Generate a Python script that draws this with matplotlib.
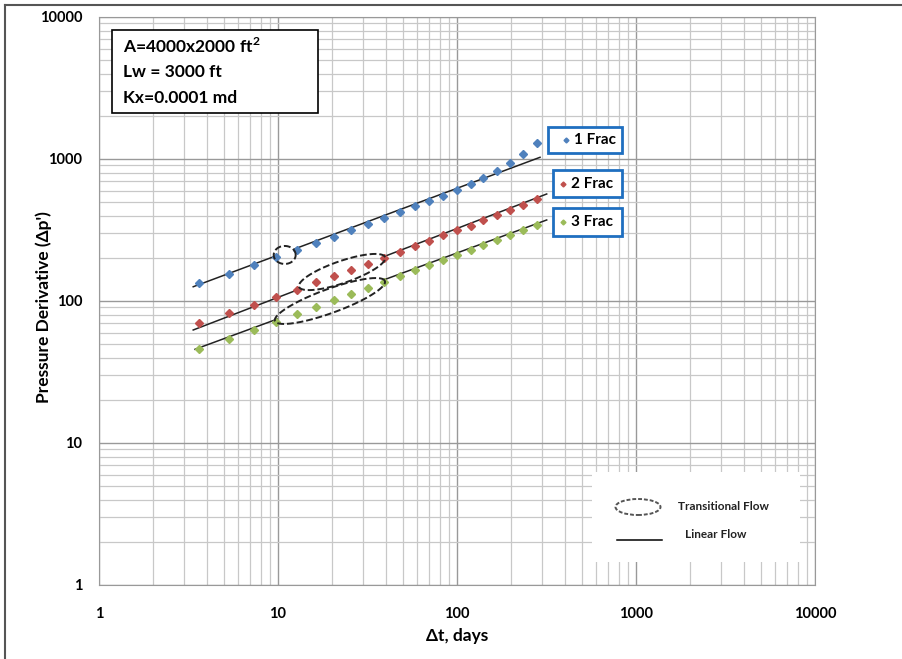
import matplotlib.pyplot as plt
import matplotlib.patches as patches
from matplotlib.lines import Line2D
import numpy as np

plt.rcParams['font.family'] = ['Lato', 'DejaVu Sans']
plt.rcParams['mathtext.fontset'] = 'custom'
plt.rcParams['mathtext.bf'] = 'Lato:bold'
plt.rcParams['mathtext.rm'] = 'Lato:bold'

# time, days
t = [3.6, 5.3, 7.3, 9.8, 12.8, 16.2, 20.5, 25.7, 31.8, 39, 48, 58, 70, 84,
     100, 119, 140, 167, 198, 235, 279]
frac1 = [133, 156, 178, 205, 229, 255, 284, 315, 347, 382, 421, 465, 506, 551,
         608, 667, 739, 823, 933, 1079, 1303]
frac2 = [70, 82, 94, 107, 120, 135, 150, 166, 183, 202, 222, 244, 266, 290,
         315, 339, 370, 401, 437, 474, 521]
frac3 = [46, 54, 62.5, 71, 81, 91, 101, 112.5, 124, 137, 151, 164.5, 180, 195,
         212, 230, 248, 268, 292, 316, 341]

names = ['1 Frac', '2 Frac', '3 Frac']
colors = ['#4F81BD', '#C0504D', '#9BBB59']

# linear flow lines (start/end) and the gap hidden by the transition ellipse
fit_x0 = [3.36, 3.36, 3.44]
fit_x1 = [291, 317, 317]
fit_y0 = [126, 62.5, 45.7]
fit_y1 = [1028, 567, 372]
gap_a = [9.6, 12.9, 9.9]
gap_b = [12.4, 39, 39]

# transitional flow ellipses: centre, length/width in px, angle in deg
ell_x = [10.9, 22.8, 19.5]
ell_y = [211, 160, 100]
ell_len = [22, 91, 117]
ell_wid = [18, 22, 24]
ell_ang = [0, 19, 20]

fig = plt.figure(figsize=(9.03, 6.59), dpi=100)
L, R, T, B = 99, 815, 17, 585
ax = fig.add_axes([L / 903, 1 - B / 659, (R - L) / 903, (B - T) / 659])
ax.set_xscale('log')
ax.set_yscale('log')
ax.set_xlim(1, 10000)
ax.set_ylim(1, 10000)

ax.grid(True, which='minor', color='#c8c8c8', lw=0.9)
ax.grid(True, which='major', color='#999999', lw=1.0)
ax.set_axisbelow(True)
for s in ax.spines.values():
    s.set_color('#999999')
ax.tick_params(which='both', length=0)
ax.tick_params(axis='x', pad=16)
ax.tick_params(axis='y', pad=12)
ax.set_xticks([1, 10, 100, 1000, 10000])
ax.set_xticklabels(['1', '10', '100', '1000', '10000'], fontsize=10.5, fontweight='bold')
ax.set_yticks([1, 10, 100, 1000, 10000])
ax.set_yticklabels(['1', '10', '100', '1000', '10000'], fontsize=10.5, fontweight='bold')
ax.set_xlabel('Δt, days', fontsize=12.5, fontweight='bold', labelpad=5)
ax.set_ylabel("Pressure Derivative (Δp')", fontsize=12.5, fontweight='bold')
ax.yaxis.set_label_coords((52 - L) / (R - L), 0.49)

for i, ys in enumerate([frac1, frac2, frac3]):
    m = np.log10(fit_y1[i] / fit_y0[i]) / np.log10(fit_x1[i] / fit_x0[i])
    f = lambda x: fit_y0[i] * (x / fit_x0[i]) ** m
    for xa, xb in [(fit_x0[i], gap_a[i]), (gap_b[i], fit_x1[i])]:
        ax.plot([xa, xb], [f(xa), f(xb)], color='#222222', lw=1.1, zorder=3)
    ax.plot(t, ys, 'D', color=colors[i], ms=3.6, mec=colors[i], zorder=4)

# ellipses drawn in pixel space then mapped back through the log axes
sx = (R - L) / 4.0
sy = (B - T) / 4.0
th = np.linspace(0, 2 * np.pi, 300)
for cx, cy, ln, wd, an in zip(ell_x, ell_y, ell_len, ell_wid, ell_ang):
    a = np.radians(an)
    u = np.cos(th) * ln / 2
    v = np.sin(th) * wd / 2
    X = np.log10(cx) * sx + u * np.cos(a) - v * np.sin(a)
    Y = np.log10(cy) * sy + u * np.sin(a) + v * np.cos(a)
    ax.plot(10 ** (X / sx), 10 ** (Y / sy), color='#222222', lw=1.4,
            ls=(0, (3.5, 1.5)), zorder=5)


def fx(px):
    return (px - L) / (R - L)


def fy(py):
    return (B - py) / (B - T)


# parameter box
ax.add_patch(patches.Rectangle((fx(112), fy(113)), fx(318) - fx(112), fy(30) - fy(113),
                               transform=ax.transAxes, facecolor='white',
                               edgecolor='black', lw=1.2, zorder=6))
for txt, py in zip(['A=4000x2000 ft$^{2}$', 'Lw = 3000 ft', 'Kx=0.0001 md'],
                   [46, 72, 98]):
    ax.text(fx(123), fy(py), txt, transform=ax.transAxes, fontsize=12.5,
            fontweight='bold', va='center', ha='left', zorder=7)

# series labels
box_x0 = [548, 553, 553]
box_y = [(127, 153), (170, 197), (208, 236)]
mk_x = [566, 563, 563]
for i in range(3):
    y0, y1 = box_y[i]
    ax.add_patch(patches.Rectangle((fx(box_x0[i]), fy(y1)), fx(622) - fx(box_x0[i]),
                                   fy(y0) - fy(y1), transform=ax.transAxes,
                                   facecolor='white', edgecolor='#1f6fc0', lw=2, zorder=6))
    ax.plot([fx(mk_x[i])], [fy((y0 + y1) / 2)], 'D', color=colors[i], ms=2.5,
            transform=ax.transAxes, zorder=7)
    ax.text(fx(mk_x[i] + 8), fy((y0 + y1) / 2), names[i], transform=ax.transAxes,
            fontsize=11, fontweight='bold', va='center', ha='left', zorder=7)

# flow-type legend
ax.add_patch(patches.Rectangle((fx(592), fy(562)), fx(800) - fx(592), fy(472) - fy(562),
                               transform=ax.transAxes, facecolor='white',
                               edgecolor='none', zorder=6))
ax.add_patch(patches.Ellipse((fx(638), fy(507)), 45 / (R - L), 16 / (B - T),
                             transform=ax.transAxes, facecolor='none',
                             edgecolor='#555555', lw=1.4, ls=(0, (2, 1)), zorder=7))
ax.plot([fx(617), fx(662)], [fy(540), fy(540)], color='black', lw=1.1,
        transform=ax.transAxes, zorder=7)
ax.text(fx(678), fy(506), 'Transitional Flow', transform=ax.transAxes, fontsize=8.5,
        fontweight='bold', va='center', ha='left', color='#222222', zorder=7)
ax.text(fx(685), fy(535), 'Linear Flow', transform=ax.transAxes, fontsize=8.5,
        fontweight='bold', va='center', ha='left', color='#222222', zorder=7)

# outer frame edges
fig.add_artist(Line2D([5 / 903, 5 / 903], [0, 1 - 5 / 659], color='#555555', lw=1.5))
fig.add_artist(Line2D([5 / 903, 1], [1 - 5 / 659, 1 - 5 / 659], color='#555555', lw=1.5))

fig.savefig('out.png', dpi=100)
